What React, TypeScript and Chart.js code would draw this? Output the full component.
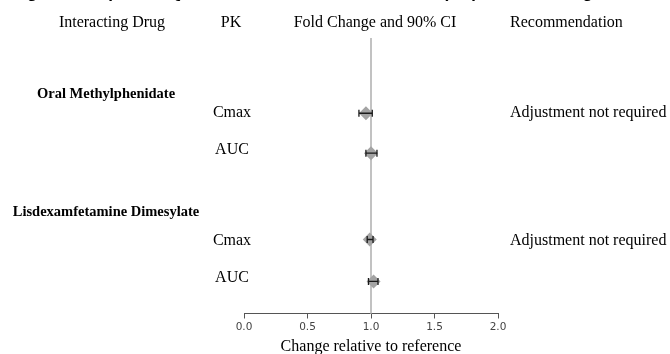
import React, { useEffect, useRef } from "react";
import { Chart, registerables } from "chart.js";

Chart.register(...registerables);

const titleText = "Figure 2: Impact of Qelbree on the Pharmacokinetics (PK) of Other Drugs";
const headers = ["Interacting Drug", "PK", "Fold Change and 90% CI", "Recommendation"];
const groups = ["Oral Methylphenidate", "Lisdexamfetamine Dimesylate"];
const groupRows = [1.34, 4.22];
const pkParams = ["Cmax", "AUC", "Cmax", "AUC"];
const pkLabelRows = [1.8, 2.7, 4.9, 5.8];
const rowPos = [1.83, 2.8, 4.9, 5.92];
const foldChange = [0.96, 1.0, 0.99, 1.02];
const ciLower = [0.905, 0.96, 0.97, 0.98];
const ciUpper = [1.01, 1.047, 1.016, 1.055];
const recommendations = ["Adjustment not required", "", "Adjustment not required", ""];
const xTicks = [0, 0.5, 1, 1.5, 2];
const referenceValue = 1;
const xAxisTitle = "Change relative to reference";

const SERIF = '"Liberation Serif", "Times New Roman", serif';

const forestPlugin = {
  id: "forest",
  beforeDatasetsDraw(chart: any) {
    const { ctx, chartArea, scales } = chart;
    const px = scales.x.getPixelForValue(referenceValue);
    ctx.save();
    ctx.strokeStyle = "#c2c2c2";
    ctx.lineWidth = 2;
    ctx.beginPath();
    ctx.moveTo(px, chartArea.top);
    ctx.lineTo(px, chartArea.bottom);
    ctx.stroke();
    ctx.restore();
  },
  afterDatasetsDraw(chart: any) {
    const { ctx, scales } = chart;
    ctx.save();
    ctx.strokeStyle = "#1a1a1a";
    ctx.lineWidth = 1.3;
    rowPos.forEach((r, i) => {
      const y = scales.y.getPixelForValue(r);
      const x1 = scales.x.getPixelForValue(ciLower[i]);
      const x2 = scales.x.getPixelForValue(ciUpper[i]);
      ctx.beginPath();
      ctx.moveTo(x1, y);
      ctx.lineTo(x2, y);
      ctx.moveTo(x1, y - 3.5);
      ctx.lineTo(x1, y + 3.5);
      ctx.moveTo(x2, y - 3.5);
      ctx.lineTo(x2, y + 3.5);
      ctx.stroke();
    });
    ctx.restore();
  },
  afterDraw(chart: any) {
    const { ctx, scales } = chart;
    ctx.save();
    // cut-off figure title (only its lowest pixels are visible)
    ctx.fillStyle = "#000";
    ctx.font = 'bold 17px "Liberation Sans", Arial, sans-serif';
    ctx.textAlign = "left";
    ctx.textBaseline = "alphabetic";
    ctx.fillText(titleText, 12, -2.5);

    // column headers
    ctx.font = `16px ${SERIF}`;
    ctx.textBaseline = "middle";
    ctx.textAlign = "center";
    ctx.fillText(headers[0], 112, 23);
    ctx.fillText(headers[1], 231, 23);
    ctx.fillText(headers[2], 375, 23);
    ctx.textAlign = "left";
    ctx.fillText(headers[3], 510, 23);

    // group labels
    ctx.font = `bold 14.5px ${SERIF}`;
    ctx.textAlign = "center";
    groups.forEach((g, i) => {
      ctx.fillText(g, 106, scales.y.getPixelForValue(groupRows[i]) + 1);
    });

    // PK params and recommendations
    ctx.font = `16px ${SERIF}`;
    pkLabelRows.forEach((r, i) => {
      const y = scales.y.getPixelForValue(r) + 1;
      ctx.textAlign = "center";
      ctx.fillText(pkParams[i], 232, y);
      if (recommendations[i]) {
        ctx.textAlign = "left";
        ctx.fillText(recommendations[i], 510, y);
      }
    });
    ctx.restore();
  },
};

export default function App() {
  const canvasRef = useRef<HTMLCanvasElement | null>(null);

  useEffect(() => {
    if (!canvasRef.current) return;
    const chart = new Chart(canvasRef.current, {
      type: "scatter",
      data: {
        datasets: [
          {
            data: rowPos.map((y, i) => ({ x: foldChange[i], y })),
            pointStyle: "rectRot",
            pointRadius: 7,
            pointHoverRadius: 7,
            backgroundColor: "#a3a3a3",
            borderWidth: 0,
          },
        ],
      },
      options: {
        responsive: false,
        animation: false,
        layout: { padding: { left: 244, right: 172, top: 38, bottom: -1 } },
        plugins: {
          legend: { display: false },
          tooltip: { enabled: false },
        },
        scales: {
          x: {
            type: "linear",
            min: 0,
            max: 2,
            afterBuildTicks: (scale: any) => {
              scale.ticks = xTicks.map((v) => ({ value: v }));
            },
            ticks: {
              callback: (v: any) => Number(v).toFixed(1),
              font: { family: '"DejaVu Sans", sans-serif', size: 10.5, lineHeight: 1 },
              color: "#444",
              padding: 4,
              maxRotation: 0,
              autoSkip: false,
            },
            grid: {
              display: true,
              drawOnChartArea: false,
              drawTicks: true,
              tickLength: 5,
              color: "#555",
            },
            border: { display: true, color: "#555", width: 1 },
            title: {
              display: true,
              text: xAxisTitle,
              font: { family: SERIF, size: 16, lineHeight: 1 },
              color: "#000",
              padding: { top: 2, bottom: 0 },
            },
          },
          y: {
            type: "linear",
            display: false,
            reverse: true,
            min: 0,
            max: 6.7,
          },
        },
      },
      plugins: [forestPlugin],
    });
    return () => chart.destroy();
  }, []);

  return (
    <div style={{ position: "fixed", left: 0, top: 0, width: 670, height: 354, background: "#fff" }}>
      <canvas ref={canvasRef} width={670} height={354} style={{ display: "block" }} />
    </div>
  );
}
